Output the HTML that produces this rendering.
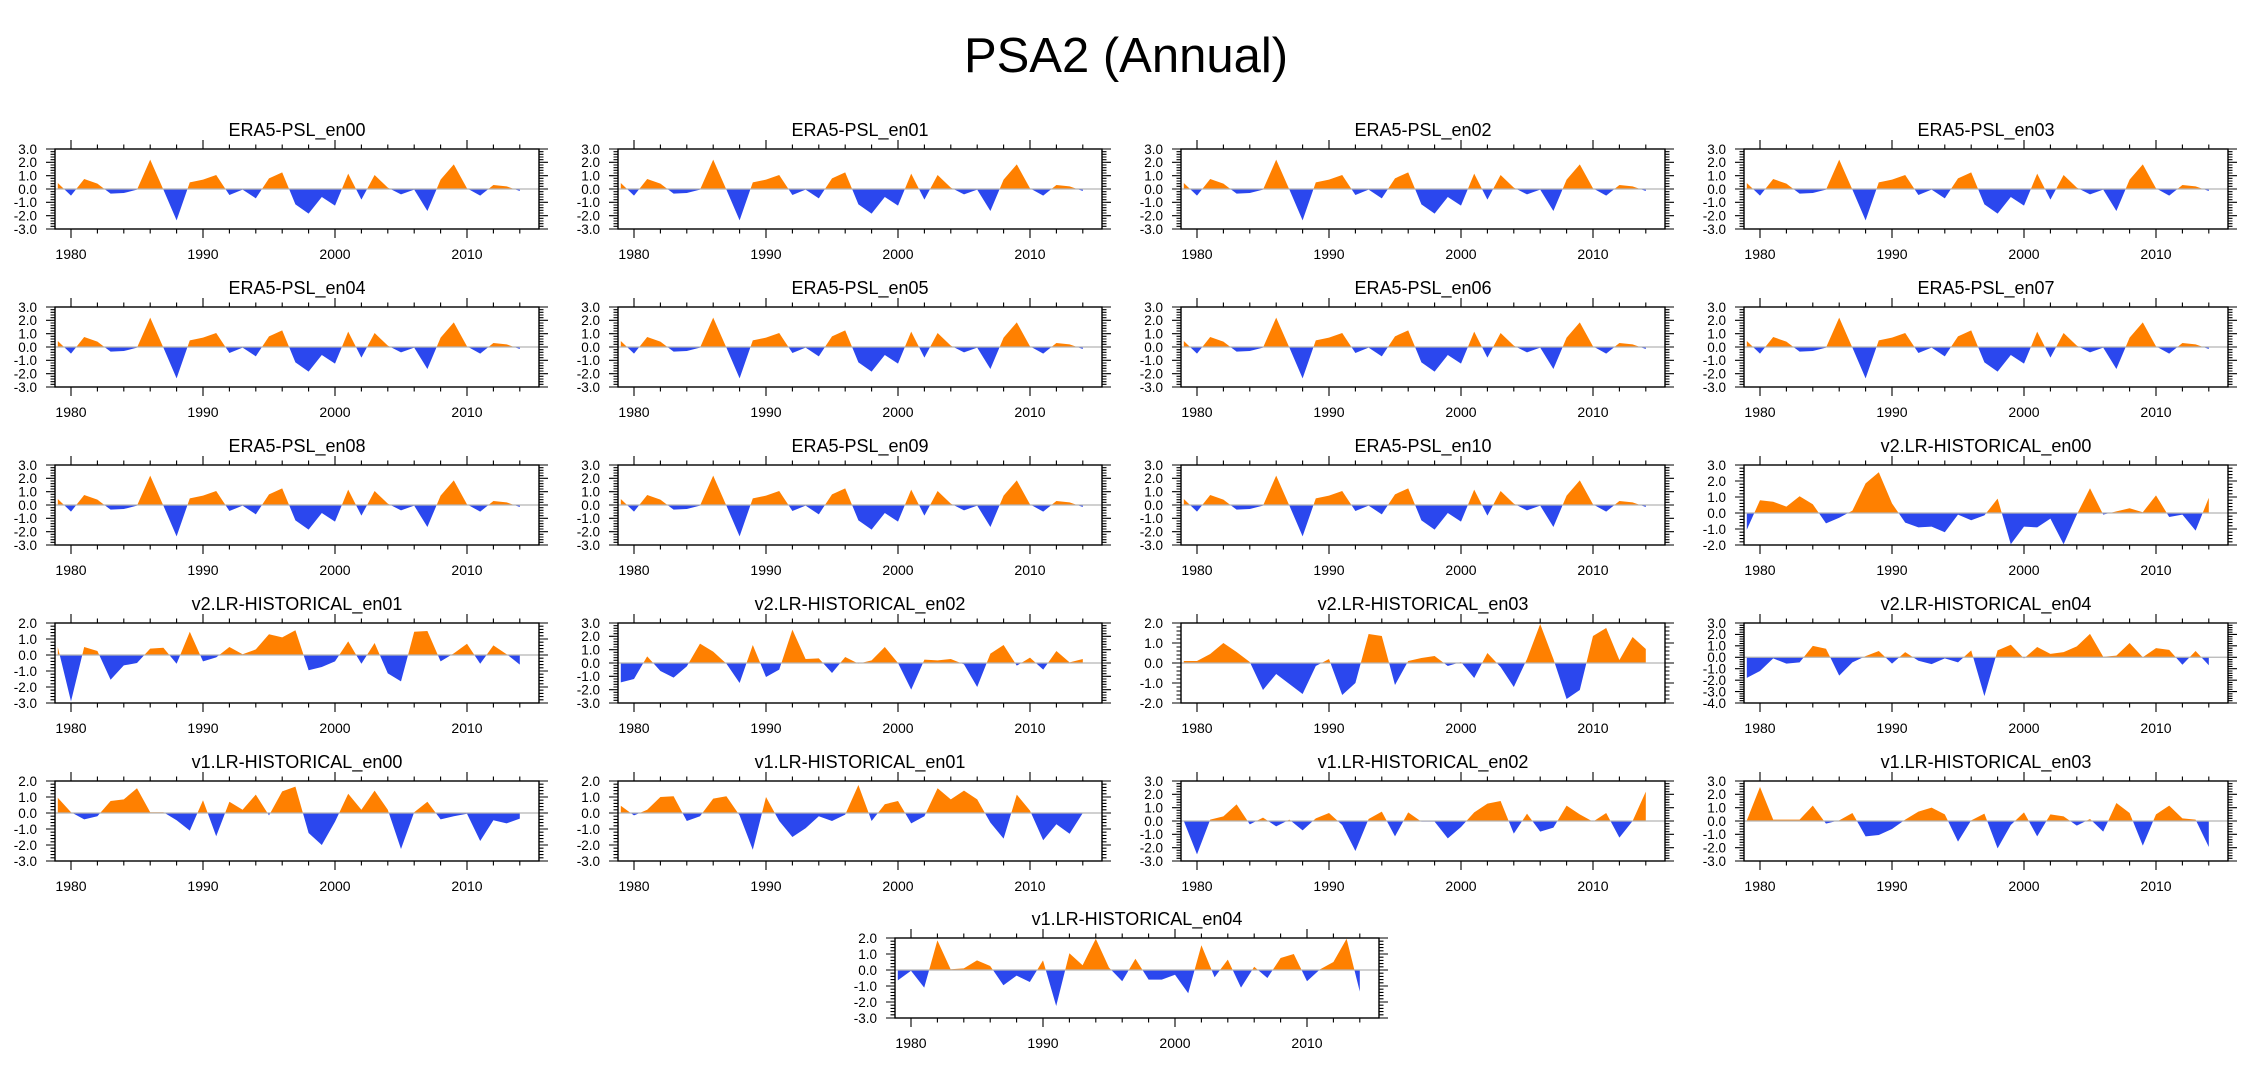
<!DOCTYPE html>
<html><head><meta charset="utf-8"><title>PSA2 (Annual)</title>
<style>
html,body{margin:0;padding:0;background:#fff;}
svg{display:block;font-family:"Liberation Sans",Arial,sans-serif;}
</style></head>
<body>
<svg id="chart" width="2252" height="1078" viewBox="0 0 2252 1078" xmlns="http://www.w3.org/2000/svg">
<text x="1126" y="72" font-size="49" text-anchor="middle" fill="#000">PSA2 (Annual)</text>
</svg>
<script>
const years = [];
for (let y = 1979; y <= 2014; y++) years.push(y);
const titles = ["ERA5-PSL_en00","ERA5-PSL_en01","ERA5-PSL_en02","ERA5-PSL_en03","ERA5-PSL_en04","ERA5-PSL_en05","ERA5-PSL_en06","ERA5-PSL_en07","ERA5-PSL_en08","ERA5-PSL_en09","ERA5-PSL_en10","v2.LR-HISTORICAL_en00","v2.LR-HISTORICAL_en01","v2.LR-HISTORICAL_en02","v2.LR-HISTORICAL_en03","v2.LR-HISTORICAL_en04","v1.LR-HISTORICAL_en00","v1.LR-HISTORICAL_en01","v1.LR-HISTORICAL_en02","v1.LR-HISTORICAL_en03","v1.LR-HISTORICAL_en04"];
const era5 = [0.45,-0.5,0.75,0.4,-0.35,-0.3,-0.05,2.2,-0.05,-2.35,0.5,0.7,1.05,-0.45,-0.05,-0.7,0.8,1.25,-1.15,-1.85,-0.6,-1.25,1.15,-0.8,1.05,0.1,-0.4,-0.05,-1.65,0.7,1.85,0.05,-0.5,0.3,0.2,-0.15];
const v2en00 = [-1.05,0.8,0.7,0.4,1.05,0.55,-0.65,-0.3,0.15,1.85,2.55,0.6,-0.6,-0.9,-0.85,-1.2,-0.1,-0.45,-0.15,0.9,-1.95,-0.85,-0.9,-0.35,-1.95,-0.1,1.55,-0.1,0.1,0.3,0.05,1.1,-0.25,-0.1,-1.1,0.95];
const v2en01 = [0.5,-2.9,0.5,0.25,-1.55,-0.65,-0.5,0.4,0.45,-0.55,1.45,-0.4,-0.15,0.5,0.05,0.35,1.3,1.1,1.55,-0.95,-0.75,-0.4,0.85,-0.55,0.75,-1.15,-1.65,1.45,1.5,-0.4,0.1,0.7,-0.55,0.6,0.05,-0.6];
const v2en02 = [-1.45,-1.2,0.5,-0.6,-1.1,-0.25,1.45,0.85,-0.05,-1.5,1.35,-1.05,-0.5,2.5,0.3,0.35,-0.75,0.45,-0.05,0.2,1.2,0.0,-2.0,0.25,0.2,0.3,-0.1,-1.8,0.7,1.35,-0.2,0.4,-0.5,0.9,0.05,0.3];
const v2en03 = [0.1,0.1,0.45,1.0,0.55,0.05,-1.35,-0.55,-1.05,-1.55,-0.15,0.2,-1.6,-1.0,1.45,1.35,-1.1,0.1,0.25,0.35,-0.15,0.05,-0.75,0.5,-0.2,-1.2,0.2,1.95,0.2,-1.8,-1.35,1.35,1.75,0.15,1.3,0.7];
const v2en04 = [-1.8,-1.2,-0.1,-0.55,-0.45,1.0,0.75,-1.6,-0.45,0.1,0.55,-0.55,0.45,-0.3,-0.6,-0.1,-0.45,0.6,-3.4,0.6,1.1,-0.1,0.9,0.3,0.45,0.95,2.05,0.05,0.15,1.25,0.0,0.8,0.65,-0.65,0.55,-0.7];
const v1en00 = [0.95,0.05,-0.4,-0.2,0.75,0.85,1.55,0.05,0.05,-0.45,-1.1,0.8,-1.45,0.7,0.2,1.15,-0.15,1.35,1.65,-1.25,-2.0,-0.55,1.2,0.2,1.4,0.2,-2.25,0.05,0.7,-0.4,-0.2,-0.05,-1.75,-0.45,-0.65,-0.35];
const v1en01 = [0.45,-0.15,0.2,1.0,1.05,-0.5,-0.2,0.9,1.05,-0.15,-2.3,1.0,-0.5,-1.5,-0.95,-0.2,-0.5,-0.1,1.75,-0.5,0.55,0.75,-0.65,-0.2,1.55,0.85,1.4,0.85,-0.6,-1.6,1.15,0.15,-1.7,-0.7,-1.3,0.0];
const v1en02 = [0.0,-2.5,0.1,0.35,1.25,-0.25,0.25,-0.4,0.1,-0.7,0.2,0.6,-0.3,-2.25,0.15,0.7,-1.15,0.65,-0.05,-0.05,-1.3,-0.45,0.65,1.3,1.5,-0.95,0.55,-0.8,-0.5,1.15,0.5,-0.05,0.6,-1.25,0.0,2.2];
const v1en03 = [0.05,2.55,0.1,0.1,0.1,1.15,-0.2,0.05,0.6,-1.15,-1.05,-0.6,0.1,0.7,1.0,0.5,-1.55,0.05,0.55,-2.05,-0.3,0.65,-1.15,0.5,0.35,-0.35,0.15,-0.8,1.35,0.6,-1.85,0.5,1.15,0.2,0.1,-1.95];
const v1en04 = [-0.65,-0.05,-1.1,1.85,0.05,0.1,0.6,0.25,-0.95,-0.35,-0.75,0.6,-2.25,1.05,0.3,1.95,0.15,-0.7,0.7,-0.6,-0.6,-0.3,-1.45,1.55,-0.45,0.65,-1.1,0.2,-0.5,0.75,1.0,-0.7,0.05,0.5,1.95,-1.35];
const yMins = [-3,-3,-3,-3,-3,-3,-3,-3,-3,-3,-3,-2,-3,-3,-2,-4,-3,-3,-3,-3,-3];
const yMaxs = [3,3,3,3,3,3,3,3,3,3,3,3,2,3,2,3,2,2,3,3,2];
const series = [era5,era5,era5,era5,era5,era5,era5,era5,era5,era5,era5,v2en00,v2en01,v2en02,v2en03,v2en04,v1en00,v1en01,v1en02,v1en03,v1en04];
const xTickYears = [1980,1990,2000,2010];

const NS = "http://www.w3.org/2000/svg";
const svg = document.getElementById("chart");
function mk(tag, attrs, parent) {
  const e = document.createElementNS(NS, tag);
  for (const k in attrs) e.setAttribute(k, attrs[k]);
  (parent || svg).appendChild(e);
  return e;
}
const W = 484, H = 80, X0 = 1980 - 16/13.2, X1 = X0 + 484/13.2;
const defs = mk("defs", {});

function drawPanel(i, L, T) {
  const g = mk("g", {});
  
  
  const ymin = yMins[i], ymax = yMaxs[i];
  const xs = v => L + (v - X0) / (X1 - X0) * W;
  const ys = v => T + H - (v - ymin) / (ymax - ymin) * H;
  const z = ys(0);
  const tt = mk("text", {x: L + W/2, y: T - 13, "font-size": 18, "text-anchor": "middle", fill: "#000"}, g);
  tt.textContent = titles[i];
  
  
  const cu = mk("clipPath", {id: "cu" + i}, defs);
  mk("rect", {x: L, y: T, width: W, height: z - T}, cu);
  const cd = mk("clipPath", {id: "cd" + i}, defs);
  mk("rect", {x: L, y: z, width: W, height: T + H - z}, cd);
  const d = series[i];
  let pts = xs(years[0]).toFixed(2) + "," + z.toFixed(2) + " ";
  for (let k = 0; k < d.length; k++) pts += xs(years[k]).toFixed(2) + "," + ys(d[k]).toFixed(2) + " ";
  pts += xs(years[d.length-1]).toFixed(2) + "," + z.toFixed(2);
  const pu = mk("polygon", {points: pts, fill: "#ff8000", "clip-path": "url(#cu" + i + ")"}, g);
  
  
  const pd = mk("polygon", {points: pts, fill: "#2b47ee", "clip-path": "url(#cd" + i + ")"}, g);
  
  
  const zl = mk("line", {x1: L, x2: L + W, y1: z, y2: z, stroke: "#b4b4b4", "stroke-width": 1.2}, g);
  
  
  let tp = "";
  for (let v = Math.round(ymin*5); v <= Math.round(ymax*5); v++) {
    const yy = ys(v/5).toFixed(2);
    const len = (v % 5 === 0) ? 9 : 4.5;
    tp += `M${L} ${yy}h${-len}M${L+W} ${yy}h${len}`;
  }
  for (let yr = 1980; yr <= 2014; yr += 2) {
    const xx = xs(yr).toFixed(2);
    const len = (yr % 10 === 0) ? 9 : 4.5;
    tp += `M${xx} ${T}v${-len}M${xx} ${T+H}v${len}`;
  }
  const tk = mk("path", {d: tp, stroke: "#000", "stroke-width": 1.1, fill: "none"}, g);
  
  
  const bx = mk("rect", {x: L, y: T, width: W, height: H, fill: "none", stroke: "#000", "stroke-width": 1.4}, g);
  
  
  for (let v = ymin; v <= ymax; v++) {
    const t = mk("text", {x: L - 18, y: ys(v) + 4.8, "font-size": 13.5, "text-anchor": "end", fill: "#000"}, g);
    t.textContent = v.toFixed(1);
    
    
  }
  for (const yr of xTickYears) {
    const t = mk("text", {x: xs(yr), y: T + H + 30, "font-size": 14, "text-anchor": "middle", fill: "#000"}, g);
    t.textContent = String(yr);
    
    
  }
}
for (let i = 0; i < 20; i++) {
  const c = i % 4, r = Math.floor(i / 4);
  drawPanel(i, 55 + 563 * c, 149 + 158 * r);
}
drawPanel(20, 895, 938);
</script>
</body></html>
